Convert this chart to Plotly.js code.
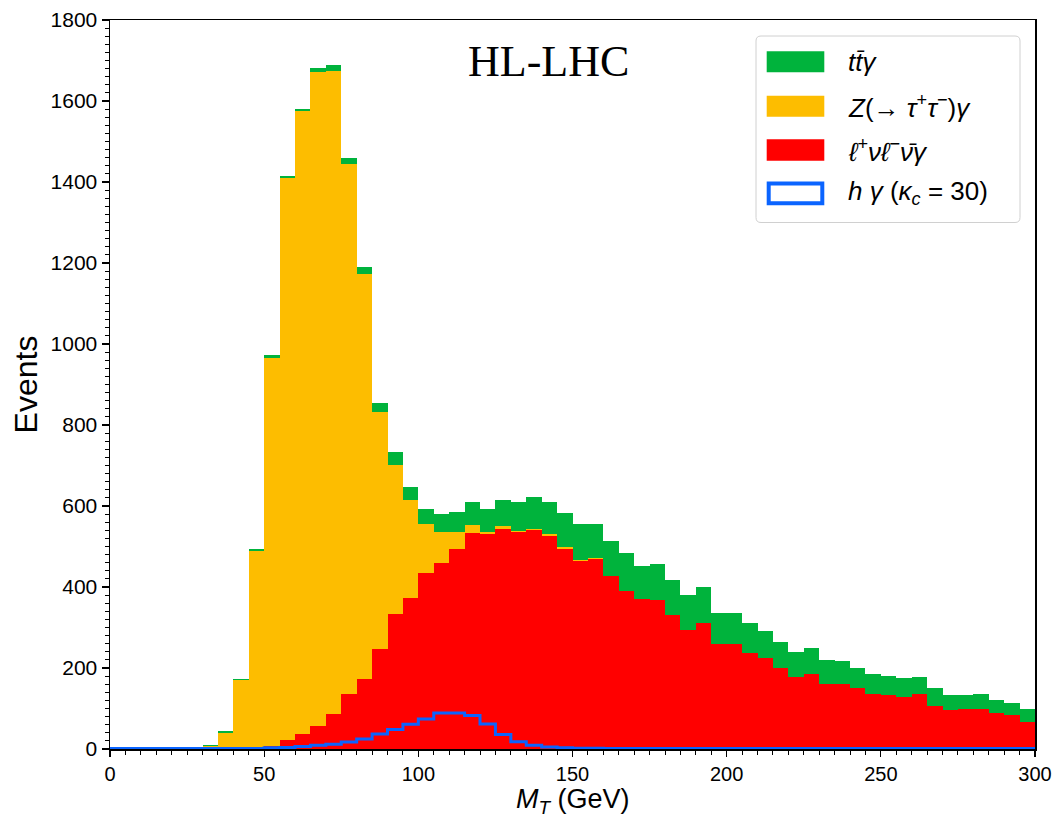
<!DOCTYPE html>
<html>
<head>
<meta charset="utf-8">
<script src="https://cdn.plot.ly/plotly-3.0.1.min.js"></script>
<style>
  html, body { margin: 0; padding: 0; background: #ffffff; }
  #chart { width: 1055px; height: 819px; }
</style>
</head>
<body>
<div id="chart"></div>
<script>
// ---- data: 5 GeV bins from 0 to 300 GeV ----
const binEdges = [0,5,10,15,20,25,30,35,40,45,50,55,60,65,70,75,80,85,90,95,
  100,105,110,115,120,125,130,135,140,145,150,155,160,165,170,175,180,185,190,195,
  200,205,210,215,220,225,230,235,240,245,250,255,260,265,270,275,280,285,290,295,300];

// l+ nu l- nubar gamma (bottom of stack)
const llnunuGamma = [0,0,0,0,0,0,0,0.5,1,3,
  8,22,36,57,86,137,173,246,333,372,
  434,460,495,533,531,543,535,540,527,495,
  465,470,426,389,370,368,332,294,310,260,
  259,236,224,199,179,185,160,160,150,136,
  133,129,136,107,96,99,100,88,83,67];

// Z(-> tau tau) gamma (middle of stack)
const zTauTauGamma = [0,0,0,0,0,0,8,40,169,486,
  958,1389,1539,1615,1589,1308,1001,586,368,243,
  121,77,42,20,4,8,3,2,4,3,
  1,1,0.5,0,0,0,0,1,0,0,
  0,0,0,0,0,0,0,0,0,0,
  0,0,0,0,0,0,0,0,0,0];

// t tbar gamma (top of stack)
const ttGamma = [0,0,0,0,0,0,1,3,3,4,
  6,5,6,9,15,14,17,23,33,33,
  38,43,47,58,58,64,71,81,80,84,
  89,85,87,96,83,90,85,85,89,77,
  76,74,67,66,61,65,60,58,51,50,
  47,46,41,44,37,34,37,33,30,31];

// h gamma (kappa_c = 30), drawn as a step outline
const hGamma = [1,1,1,1,1,1,1,1,1,1,
  3,4,6,9,12,17,25,37,48,61,
  74,89,89,83,62,36,18,9,5,3,
  2,2,1,1,1,1,1,1,1,1,
  1,1,1,1,1,1,1,1,1,1,
  1,1,1,1,1,1,1,1,1,1];

const legendLabels = [
  "<i>tt̄γ</i>",
  "<i>Z</i>(→ <i>τ</i><sup>+</sup><i>τ</i><sup>−</sup>)<i>γ</i>",
  "<i>ℓ</i><sup>+</sup><i>νℓ</i><sup>−</sup><i>ν̄γ</i>",
  "<i>h</i> <i>γ</i> (<i>κ<sub>c</sub></i> = 30)"
];
const xTitle = "<i>M<sub>T</sub></i> (GeV)";
const yTitle = "Events";
const plotLabel = "HL-LHC";

const colors = { green: "#00b33c", orange: "#fdbd00", red: "#ff0000", blue: "#0a64ff" };

// ---- traces ----
const binLow = binEdges.slice(0, binEdges.length - 1);
const barBase = { type: "bar", x: binLow, width: 5, offset: 0, hoverinfo: "skip", showlegend: false };

const traces = [
  Object.assign({}, barBase, { y: llnunuGamma, name: "llnunu", marker: { color: colors.red, line: { width: 0 } } }),
  Object.assign({}, barBase, { y: zTauTauGamma, name: "Ztautau", marker: { color: colors.orange, line: { width: 0 } } }),
  Object.assign({}, barBase, { y: ttGamma, name: "tt", marker: { color: colors.green, line: { width: 0 } } }),
  {
    type: "scatter", mode: "lines",
    x: binEdges,
    y: hGamma.concat([hGamma[hGamma.length - 1]]),
    line: { shape: "hv", color: colors.blue, width: 3 },
    showlegend: false, hoverinfo: "skip"
  }
];

// ---- layout helpers (pixel -> paper) ----
const L = 110, R = 1035, T = 20, B = 749;
const fx = p => (p - L) / (R - L);
const fy = p => (B - p) / (B - T);

function roundRect(x0, y0, x1, y1, r) {
  const ax0 = fx(x0), ax1 = fx(x1), ay0 = fy(y1), ay1 = fy(y0);
  const rx = r / (R - L), ry = r / (B - T);
  return `M${ax0 + rx},${ay0} L${ax1 - rx},${ay0} Q${ax1},${ay0} ${ax1},${ay0 + ry} ` +
         `L${ax1},${ay1 - ry} Q${ax1},${ay1} ${ax1 - rx},${ay1} ` +
         `L${ax0 + rx},${ay1} Q${ax0},${ay1} ${ax0},${ay1 - ry} ` +
         `L${ax0},${ay0 + ry} Q${ax0},${ay0} ${ax0 + rx},${ay0} Z`;
}

const swatches = [
  { y0: 51.3, y1: 72.3, fill: colors.green, outline: false },
  { y0: 95.7, y1: 116.7, fill: colors.orange, outline: false },
  { y0: 139.3, y1: 160.7, fill: colors.red, outline: false },
  { y0: 183.5, y1: 203.2, fill: "#ffffff", outline: true }
];
const textY = [62, 106, 150, 193];

const shapes = [
  { type: "path", xref: "paper", yref: "paper", path: roundRect(756, 36, 1020, 222.5, 5),
    fillcolor: "rgba(255,255,255,0.85)", line: { color: "#d0d0d0", width: 1 } }
];
swatches.forEach(s => {
  shapes.push({
    type: "rect", xref: "paper", yref: "paper",
    x0: fx(s.outline ? 768.7 : 766.7), x1: fx(s.outline ? 822.3 : 824.3),
    y0: fy(s.y1), y1: fy(s.y0),
    fillcolor: s.fill,
    line: s.outline ? { color: colors.blue, width: 4 } : { width: 0 }
  });
});

const annotations = [
  { text: plotLabel, xref: "paper", yref: "paper", x: fx(548), y: fy(62),
    xanchor: "center", yanchor: "middle", showarrow: false,
    font: { family: "Liberation Serif, Times New Roman, serif", size: 44, color: "#000" } },
  { text: xTitle, xref: "paper", yref: "paper", x: 0.5, y: fy(819),
    xanchor: "center", yanchor: "bottom", showarrow: false, borderpad: 0,
    font: { family: "Liberation Sans, Arial, sans-serif", size: 27, color: "#000" } }
];
legendLabels.forEach((t, i) => {
  annotations.push({
    text: t, xref: "paper", yref: "paper", x: fx(846), y: fy(textY[i]),
    xanchor: "left", yanchor: "middle", showarrow: false,
    font: { family: "Liberation Sans, Arial, sans-serif", size: 26, color: "#000" }
  });
});

const layout = {
  width: 1055, height: 819,
  margin: { l: L, r: 1055 - R, t: T, b: 819 - B, pad: 0 },
  paper_bgcolor: "#ffffff", plot_bgcolor: "#ffffff",
  barmode: "stack", bargap: 0,
  showlegend: false,
  font: { family: "Liberation Sans, Arial, sans-serif", color: "#000" },
  xaxis: {
    range: [0, 300], tick0: 0, dtick: 50, ticks: "outside", ticklen: 6, tickwidth: 1.3,
    tickcolor: "#000", showline: true, linecolor: "#000", linewidth: 1.5, mirror: true,
    showgrid: false, zeroline: false,
    tickfont: { size: 20, color: "#000" },
    minor: { dtick: 5, ticks: "outside", ticklen: 4, tickwidth: 1, tickcolor: "#000", showgrid: false }
  },
  yaxis: {
    range: [0, 1800], tick0: 0, dtick: 200, ticks: "outside", ticklen: 7, tickwidth: 1.3,
    tickcolor: "#000", showline: true, linecolor: "#000", linewidth: 1.5, mirror: true,
    showgrid: false, zeroline: false,
    tickfont: { size: 21, color: "#000" },
    minor: { dtick: 20, ticks: "outside", ticklen: 4, tickwidth: 1, tickcolor: "#000", showgrid: false },
    title: { text: yTitle, font: { size: 32, color: "#000" }, standoff: 3 }
  },
  shapes: shapes,
  annotations: annotations
};

Plotly.newPlot("chart", traces, layout, { displayModeBar: false, staticPlot: true });
</script>
</body>
</html>
